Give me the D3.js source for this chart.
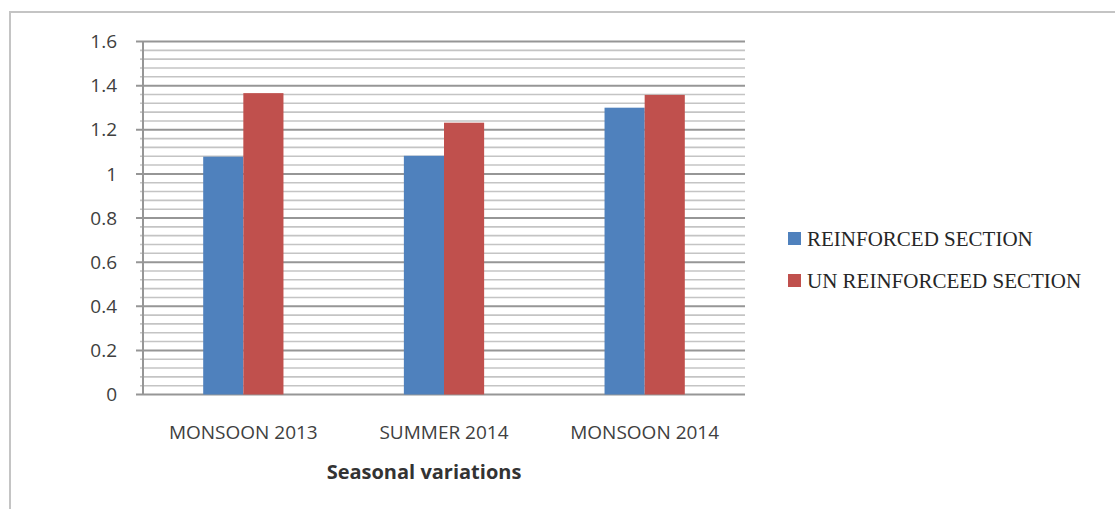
<!DOCTYPE html>
<html lang="en">
<head>
  <meta charset="UTF-8">
  <title>Seasonal variations</title>
  <style>
    body { margin: 0; background: #fff; }
    svg  { display: block; }
    .tick-label { font-family: "Open Sans", sans-serif; font-size: 19px; fill: #404040; }
    .legend-label { font-family: "Liberation Serif", serif; font-size: 21px; fill: #262626; }
    .axis-title { font-family: "Open Sans", sans-serif; font-size: 20px; font-weight: bold; fill: #333; }
  </style>
</head>
<body>
  <svg id="chart" width="1115" height="509"></svg>

  <script src="https://d3js.org/d3.v7.min.js"></script>
  <script>
    /* ---------- data ---------- */
    const categories   = ['MONSOON 2013', 'SUMMER 2014', 'MONSOON 2014'];
    const seriesNames  = ['REINFORCED SECTION', 'UN REINFORCEED SECTION'];
    const reinforced   = [1.078, 1.082, 1.30];
    const unreinforced = [1.366, 1.232, 1.358];
    const yTicks       = [0, 0.2, 0.4, 0.6, 0.8, 1, 1.2, 1.4, 1.6];
    const xTitle       = 'Seasonal variations';

    const colors = ['#4f81bd', '#c0504d'];
    const values = [reinforced, unreinforced];

    /* ---------- layout ---------- */
    const plot = { left: 143, right: 745, top: 41.5, bottom: 394.5 };

    const svg = d3.select('#chart');

    // outer frame
    svg.append('rect')
       .attr('x', 10).attr('y', 12)
       .attr('width', 1120).attr('height', 520)
       .attr('fill', 'none')
       .attr('stroke', '#c4c4c4')
       .attr('stroke-width', 2);

    /* ---------- scales ---------- */
    const x0 = d3.scaleBand()
                 .domain(categories)
                 .range([plot.left, plot.right])
                 .paddingInner(0.6)
                 .paddingOuter(0.3);

    const x1 = d3.scaleBand()
                 .domain(seriesNames)
                 .range([0, x0.bandwidth()]);

    const y = d3.scaleLinear()
                .domain([0, 1.6])
                .range([plot.bottom, plot.top]);

    /* ---------- gridlines ---------- */
    const minorTicks = d3.range(0, 1.6001, 0.04).filter(v => Math.abs(v / 0.2 - Math.round(v / 0.2)) > 1e-6);

    svg.append('g').selectAll('line')
       .data(minorTicks)
       .enter().append('line')
       .attr('x1', plot.left - 3).attr('x2', plot.right)
       .attr('y1', d => y(d)).attr('y2', d => y(d))
       .attr('stroke', '#c4c4c4')
       .attr('stroke-width', 1.6);

    svg.append('g').selectAll('line')
       .data(yTicks)
       .enter().append('line')
       .attr('x1', plot.left - 7).attr('x2', plot.right)
       .attr('y1', d => y(d)).attr('y2', d => y(d))
       .attr('stroke', '#969696')
       .attr('stroke-width', 2);

    // y axis line
    svg.append('line')
       .attr('x1', plot.left).attr('x2', plot.left)
       .attr('y1', y(1.6)).attr('y2', y(0))
       .attr('stroke', '#969696')
       .attr('stroke-width', 2);

    /* ---------- bars ---------- */
    const groups = svg.append('g').selectAll('g')
       .data(categories)
       .enter().append('g')
       .attr('transform', d => `translate(${x0(d)},0)`);

    groups.selectAll('rect')
       .data((d, i) => seriesNames.map((s, j) => ({ s, j, v: values[j][i] })))
       .enter().append('rect')
       .attr('x', d => x1(d.s))
       .attr('y', d => y(d.v))
       .attr('width', x1.bandwidth())
       .attr('height', d => y(0) - y(d.v))
       .attr('fill', d => colors[d.j]);

    /* ---------- y tick labels ---------- */
    svg.append('g').selectAll('text')
       .data(yTicks)
       .enter().append('text')
       .attr('class', 'tick-label')
       .attr('x', plot.left - 26)
       .attr('y', d => y(d))
       .attr('dy', '0.35em')
       .attr('text-anchor', 'end')
       .text(d => d3.format('~g')(d));

    /* ---------- x tick labels ---------- */
    svg.append('g').selectAll('text')
       .data(categories)
       .enter().append('text')
       .attr('class', 'tick-label')
       .attr('x', d => x0(d) + x0.bandwidth() / 2)
       .attr('y', plot.bottom + 44)
       .attr('text-anchor', 'middle')
       .text(d => d);

    svg.append('text')
       .attr('class', 'axis-title')
       .attr('x', (plot.left + plot.right) / 2 - 20)
       .attr('y', plot.bottom + 84)
       .attr('text-anchor', 'middle')
       .text(xTitle);

    /* ---------- legend ---------- */
    const legend = svg.append('g')
       .attr('transform', 'translate(788,238.5)');

    const items = legend.selectAll('g')
       .data(seriesNames)
       .enter().append('g')
       .attr('transform', (d, i) => `translate(0,${i * 42})`);

    items.append('rect')
       .attr('x', 0).attr('y', -6.5)
       .attr('width', 13).attr('height', 13)
       .attr('fill', (d, i) => colors[i]);

    items.append('text')
       .attr('class', 'legend-label')
       .attr('x', 19)
       .attr('dy', '0.35em')
       .text(d => d);
  </script>
</body>
</html>
